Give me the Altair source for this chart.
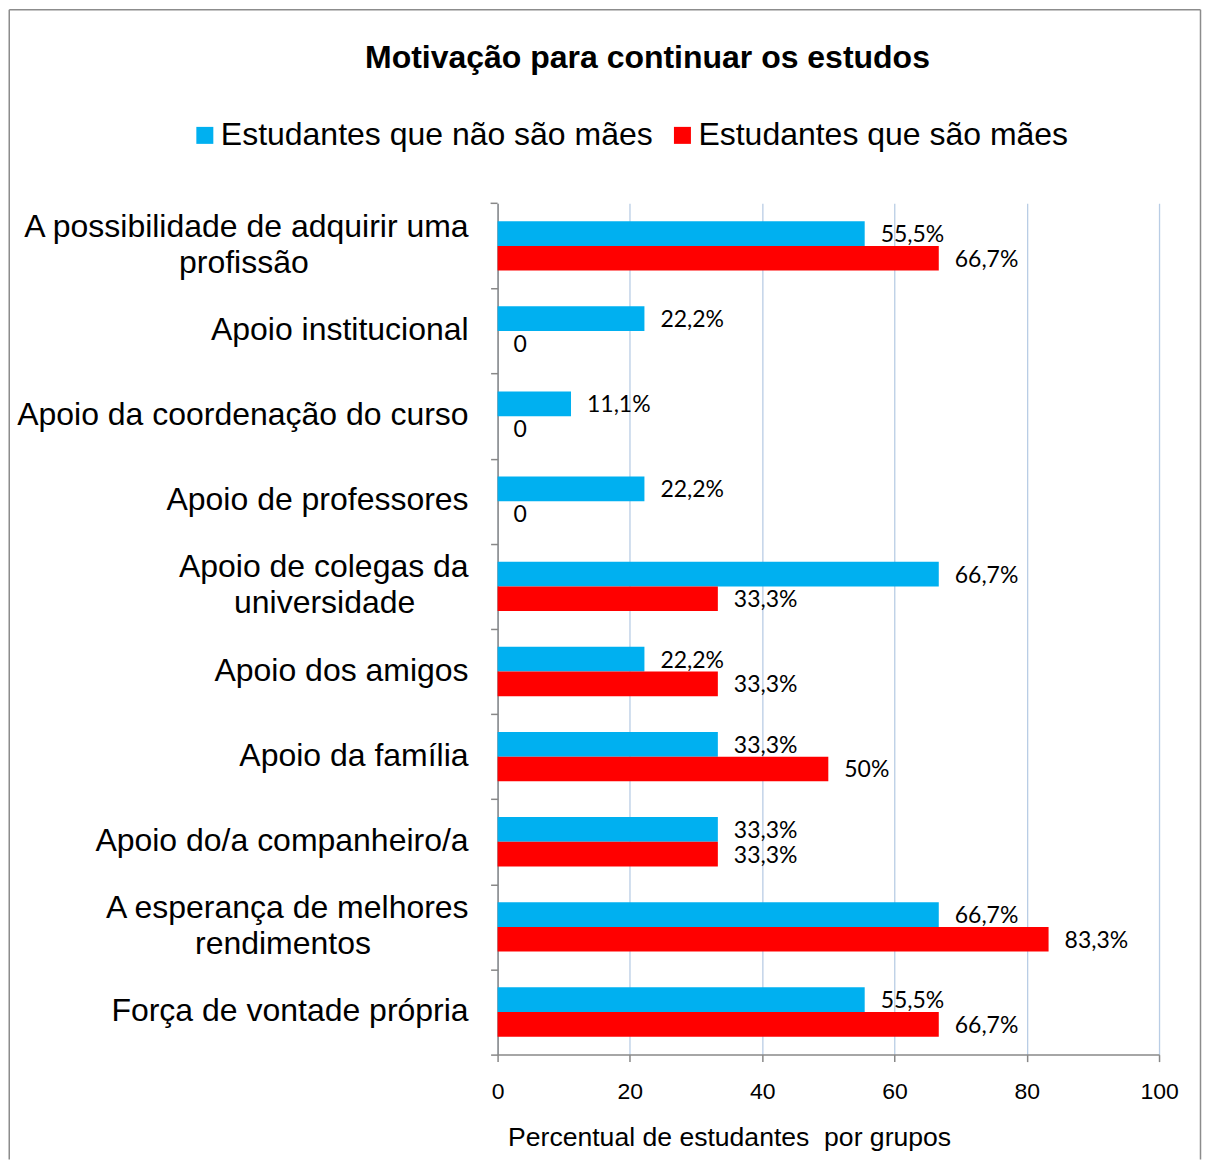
import altair as alt
import pandas as pd

# ---------------- data ----------------
categories = [
    "A possibilidade de adquirir uma profissão",
    "Apoio institucional",
    "Apoio da coordenação do curso",
    "Apoio de professores",
    "Apoio de colegas da universidade",
    "Apoio dos amigos",
    "Apoio da família",
    "Apoio do/a companheiro/a",
    "A esperança de melhores rendimentos",
    "Força de vontade própria",
]
nao_maes = [55.5, 22.2, 11.1, 22.2, 66.7, 22.2, 33.3, 33.3, 66.7, 55.5]
maes = [66.7, 0, 0, 0, 33.3, 33.3, 50, 33.3, 83.3, 66.7]
series = ["Estudantes que não são mães", "Estudantes que são mães"]
colors = ["#00B0F0", "#FF0000"]
x_ticks = [0, 20, 40, 60, 80, 100]
title_text = "Motivação para continuar os estudos"
x_title = "Percentual de estudantes \u00a0por grupos"

# display labels (two-line ones, second line padded so both lines look centred)
NB = "\u00a0"
ZW = "\u200b"
display = {
    categories[0]: "A possibilidade de adquirir uma\nprofissão" + NB * 18 + ZW,
    categories[4]: "Apoio de colegas da\nuniversidade" + NB * 6 + ZW,
    categories[8]: "A esperança de melhores\nrendimentos" + NB * 11 + ZW,
}


def fmt(v):
    if v == 0:
        return "0"
    if float(v).is_integer():
        return f"{int(v)}%"
    return f"{v:.1f}".replace(".", ",") + "%"


rows = []
for c, a, b in zip(categories, nao_maes, maes):
    rows.append({"cat": c, "serie": series[0], "valor": a, "rotulo": fmt(a)})
    rows.append({"cat": c, "serie": series[1], "valor": b, "rotulo": fmt(b)})
df = pd.DataFrame(rows)

lab_single = pd.DataFrame({"cat": [c for c in categories if c not in display]})
lab_single["txt"] = lab_single["cat"]
lab_multi = pd.DataFrame({"cat": [c for c in categories if c in display]})
lab_multi["txt"] = [display[c] for c in lab_multi["cat"]]

FONT = "Liberation Sans"
GRAY = "#888888"
W, H = 662, 852
STEP = H / len(categories)

y_scale = alt.Scale(domain=categories, paddingInner=0.42, paddingOuter=0.21)
y_enc = alt.Y(
    "cat:N",
    sort=categories,
    scale=y_scale,
    axis=alt.Axis(
        title=None,
        labels=False,
        tickOffset=STEP / 2,
        tickSize=7,
        tickColor=GRAY,
        tickWidth=1.5,
        domainColor=GRAY,
        domainWidth=1.5,
        grid=False,
    ),
)
y_plain = alt.Y("cat:N", sort=categories)
y_off = alt.YOffset("serie:N", sort=series, scale=alt.Scale(paddingInner=0, paddingOuter=0))
x_enc = alt.X(
    "valor:Q",
    scale=alt.Scale(domain=[0, 100], nice=False),
    axis=alt.Axis(
        values=x_ticks,
        title=x_title,
        titleFont=FONT,
        titleFontSize=26.6,
        titleFontWeight="normal",
        titleColor="black",
        titleAnchor="start",
        titleX=10,
        titleY=91,
        titleBaseline="alphabetic",
        labelFont=FONT,
        labelFontSize=23,
        labelColor="black",
        labelPadding=19,
        labelFlush=False,
        tickSize=7,
        tickColor=GRAY,
        tickWidth=1.5,
        domainColor=GRAY,
        domainWidth=1.5,
        grid=True,
        gridColor="#B9CDE5",
        gridWidth=1.3,
    ),
)
color_enc = alt.Color(
    "serie:N",
    sort=series,
    scale=alt.Scale(domain=series, range=colors),
    legend=alt.Legend(
        title=None,
        orient="none",
        legendX=-309,
        legendY=-84,
        direction="horizontal",
        symbolType="square",
        symbolSize=289,
        symbolStrokeWidth=0,
        labelFont=FONT,
        labelFontSize=32,
        labelColor="black",
        labelOffset=0,
        columnPadding=13,
        labelLimit=800,
        padding=0,
    ),
)

base = alt.Chart(df)
bars = base.mark_bar().encode(x=x_enc, y=y_enc, yOffset=y_off, color=color_enc)
texts = base.mark_text(
    align="left", baseline="middle", dx=16, dy=1.5, font="Lato", fontSize=23, color="black"
).encode(x="valor:Q", y=y_plain, yOffset=alt.YOffset("serie:N", sort=series), text="rotulo:N")

cat_single = alt.Chart(lab_single).mark_text(
    align="right", baseline="middle", font=FONT, fontSize=32, color="black", dy=-1
).encode(x=alt.value(-29), y=y_plain, text="txt:N")
cat_multi = alt.Chart(lab_multi).mark_text(
    align="right", baseline="middle", font=FONT, fontSize=32, color="black",
    dy=-19, lineBreak="\n", lineHeight=36,
).encode(x=alt.value(-29), y=y_plain, text="txt:N")

title = alt.Chart(pd.DataFrame({"t": [title_text]})).mark_text(
    font=FONT, fontSize=32, fontWeight="bold", color="black", align="center", baseline="alphabetic"
).encode(text="t:N", x=alt.value(150), y=alt.value(-135.5))

one = pd.DataFrame({"a": [0]})
# top-most category boundary tick of the y axis
top_tick = alt.Chart(one).mark_rule(color=GRAY, strokeWidth=1.5).encode(
    x=alt.value(-7), x2=alt.value(0), y=alt.value(0))

L, T, R, B = -488.75, -193.75, 703.5, 957
bcol = "#8C8C8C"
left = alt.Chart(one).mark_rule(color=bcol, strokeWidth=1.5).encode(
    x=alt.value(L), y=alt.value(T), y2=alt.value(B))
top = alt.Chart(one).mark_rule(color=bcol, strokeWidth=1.5).encode(
    x=alt.value(L), x2=alt.value(R), y=alt.value(T))
right = alt.Chart(one).mark_rule(color=bcol, strokeWidth=1.5).encode(
    x=alt.value(R), y=alt.value(T), y2=alt.value(B))

chart = (
    alt.layer(bars, texts, cat_single, cat_multi, title, top_tick, left, top, right)
    .properties(width=W, height=H, padding=0, background="white")
    .configure_view(stroke=None)
)

chart.save("out.html", embed_options={"renderer": "svg", "actions": False})
